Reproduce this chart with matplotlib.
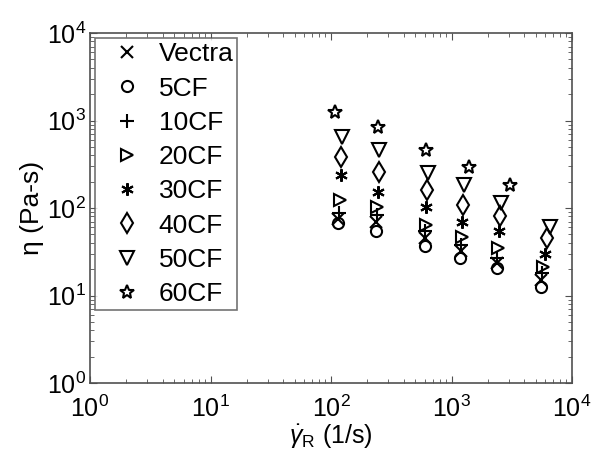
import matplotlib
matplotlib.use("Agg")
import matplotlib.pyplot as plt
from matplotlib.ticker import LogLocator, NullFormatter

plt.rcParams['font.family'] = ['Liberation Sans', 'DejaVu Sans']
plt.rcParams['mathtext.fontset'] = 'custom'
plt.rcParams['mathtext.rm'] = 'Liberation Sans'
plt.rcParams['mathtext.it'] = 'Liberation Sans:italic'

labels = ["Vectra", "5CF", "10CF", "20CF", "30CF", "40CF", "50CF", "60CF"]

x_vectra = [115, 238, 600, 1190, 2380, 5550]
y_vectra = [75, 70, 45, 32, 23.6, 15]
x_5cf = [114, 236, 598, 1185, 2370, 5500]
y_5cf = [68, 54, 37, 27, 20.5, 12.6]
x_10cf = [116, 240, 605, 1200, 2400, 5650]
y_10cf = [88, 83, 54, 38, 27, 18]
x_20cf = [118, 243, 612, 1215, 2430, 5800]
y_20cf = [123, 103, 64, 47, 35, 21]
x_30cf = [120, 246, 620, 1230, 2470, 5950]
y_30cf = [238, 153, 103, 70, 54, 30]
x_40cf = [122, 249, 628, 1250, 2510, 6150]
y_40cf = [386, 260, 161, 108, 80, 45]
x_50cf = [124, 252, 636, 1270, 2560, 6600]
y_50cf = [653, 460, 249, 183, 113, 61]
x_60cf = [107, 245, 620, 1400, 3050]
y_60cf = [1260, 850, 460, 297, 183]

xs = [x_vectra, x_5cf, x_10cf, x_20cf, x_30cf, x_40cf, x_50cf, x_60cf]
ys = [y_vectra, y_5cf, y_10cf, y_20cf, y_30cf, y_40cf, y_50cf, y_60cf]
markers = ['x', 'o', '+', '>', (6, 2, 0), 'd', 'v', '*']
sizes = [8, 8, 10, 9, 9, 10, 10, 10]

fig = plt.figure(figsize=(5.94, 4.63), dpi=100)
ax = fig.add_axes([90/594, 1-383/463, 482/594, 350/463])

for x, y, m, s, lab in zip(xs, ys, markers, sizes, labels):
    ax.plot(x, y, linestyle='none', marker=m, markersize=s, color='black',
            markerfacecolor='none', markeredgewidth=1.5, label=lab)

ax.set_xscale('log')
ax.set_yscale('log')
ax.set_xlim(1, 1e4)
ax.set_ylim(1, 1e4)
ax.xaxis.set_major_locator(LogLocator(base=10, numticks=10))
ax.yaxis.set_major_locator(LogLocator(base=10, numticks=10))
ax.xaxis.set_minor_locator(LogLocator(base=10, subs=range(2, 10), numticks=20))
ax.yaxis.set_minor_locator(LogLocator(base=10, subs=range(2, 10), numticks=20))
ax.xaxis.set_minor_formatter(NullFormatter())
ax.yaxis.set_minor_formatter(NullFormatter())

spine_col = '#505050'
for sp in ax.spines.values():
    sp.set_color(spine_col)
    sp.set_linewidth(1.2)
ax.tick_params(which='both', direction='in', top=True, right=True, color=spine_col)
ax.tick_params(which='major', length=5, labelsize=18)
ax.tick_params(axis='x', which='major', pad=9)
ax.tick_params(axis='y', which='major', pad=3)
ax.tick_params(which='minor', length=3)

ax.set_xlabel(r'$\dot{\gamma}_\mathrm{R}$ (1/s)', fontsize=18, labelpad=0)
ax.set_ylabel('η (Pa-s)', fontsize=19, labelpad=2)

leg = ax.legend(loc='upper left', numpoints=1, fontsize=19, frameon=True,
                fancybox=False, edgecolor=spine_col, borderaxespad=0.2,
                labelspacing=0.39, handlelength=2.1, handletextpad=0.15,
                borderpad=0.15)
leg.get_frame().set_linewidth(1.2)

fig.savefig('out.png', dpi=100)
